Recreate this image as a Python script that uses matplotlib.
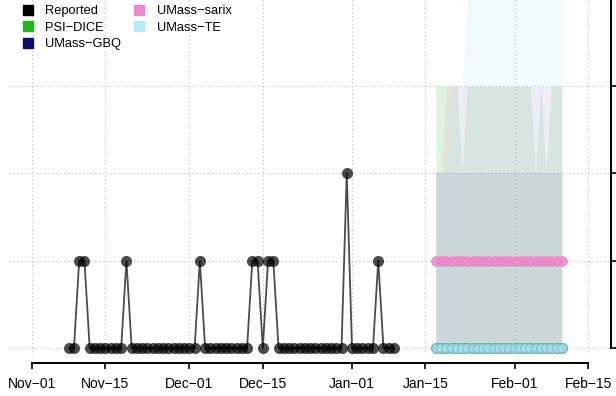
import datetime as dt
import matplotlib
matplotlib.use("Agg")
import matplotlib.pyplot as plt
import matplotlib.dates as mdates
from matplotlib.lines import Line2D

plt.rcParams['font.family'] = ['Liberation Sans', 'DejaVu Sans']

# reported daily counts, starting Nov 8
rep_start = dt.date(2021, 11, 8)
reported = [0, 0, 1, 1, 0, 0, 0, 0, 0, 0, 0, 1, 0, 0, 0, 0, 0, 0, 0, 0, 0,
            0, 0, 0, 0, 1, 0, 0, 0, 0, 0, 0, 0, 0, 0, 1, 1, 0, 1, 1, 0, 0,
            0, 0, 0, 0, 0, 0, 0, 0, 0, 0, 0, 2, 0, 0, 0, 0, 0, 1, 0, 0, 0]

# forecasts, daily from Jan 17 (25 days)
fc_start = dt.date(2022, 1, 17)
dice_med = [0, 0, 0, 0, 0, 0, 0, 0, 0, 0, 0, 0, 0, 0, 0, 0, 0, 0, 0, 0, 0, 0, 0, 0, 0]
dice_hi = [3, 3, 3, 3, 3, 2, 3, 3, 3, 3, 3, 3, 3, 3, 3, 3, 3, 3, 3, 2, 3, 2, 3, 3, 3]
gbq_med = [0, 0, 0, 0, 0, 0, 0, 0, 0, 0, 0, 0, 0, 0, 0, 0, 0, 0, 0, 0, 0, 0, 0, 0, 0]
gbq_hi = [2, 2, 2, 2, 2, 2, 2, 2, 2, 2, 2, 2, 2, 2, 2, 2, 2, 2, 2, 2, 2, 2, 2, 2, 2]
sarix_med = [1, 1, 1, 1, 1, 1, 1, 1, 1, 1, 1, 1, 1, 1, 1, 1, 1, 1, 1, 1, 1, 1, 1, 1, 1]
sarix_hi = [2, 2, 3, 3, 3, 3, 3, 3, 3, 3, 3, 3, 3, 3, 3, 3, 3, 3, 3, 3, 3, 3, 3, 3, 3]
te_med = [0, 0, 0, 0, 0, 0, 0, 0, 0, 0, 0, 0, 0, 0, 0, 0, 0, 0, 0, 0, 0, 0, 0, 0, 0]
te_hi = [2, 2, 2, 3, 3, 3, 4, 4, 4, 4, 4, 4, 4, 4, 4, 4, 4, 4, 4, 4, 4, 4, 4, 4, 4]

tick_dates = [dt.date(2021, 11, 1), dt.date(2021, 11, 15), dt.date(2021, 12, 1),
              dt.date(2021, 12, 15), dt.date(2022, 1, 1), dt.date(2022, 1, 15),
              dt.date(2022, 2, 1), dt.date(2022, 2, 15)]
tick_labels = ["Nov\u221201", "Nov\u221215", "Dec\u221201", "Dec\u221215",
               "Jan\u221201", "Jan\u221215", "Feb\u221201", "Feb\u221215"]

rep_dates = [rep_start + dt.timedelta(days=i) for i in range(len(reported))]
fc_dates = [fc_start + dt.timedelta(days=i) for i in range(len(dice_med))]

c_dice = "#1cb81c"
c_gbq = "#0c0c6c"
c_sarix = "#ee88cc"
c_te = "#b2ebf4"

fig = plt.figure(figsize=(6.16, 3.96), dpi=100)
ax = fig.add_axes([9 / 616, 41 / 396, 602 / 616, 355 / 396])

# prediction intervals
ax.fill_between(fc_dates, 0, dice_hi, color=c_dice, alpha=0.14, lw=0)
ax.fill_between(fc_dates, 0, gbq_hi, color=c_gbq, alpha=0.08, lw=0)
ax.fill_between(fc_dates, 0, sarix_hi, color=c_sarix, alpha=0.14, lw=0)
ax.fill_between(fc_dates, 0, te_hi, color=c_te, alpha=0.2, lw=0)

# medians
ax.plot(fc_dates, dice_med, 'o', color=c_dice, ms=6.8, alpha=0.6)
ax.plot(fc_dates, gbq_med, 'o', color=c_gbq, ms=6.8, alpha=0.3)
ax.plot(fc_dates, sarix_med, 'o', color=c_sarix, ms=6.8, alpha=0.85, mec="#e98cc8")
ax.plot(fc_dates, te_med, 'o', color="#a6e0ea", ms=6.8, alpha=0.9, mec="#7cc2d2", mew=0.8)

# reported
ax.plot(rep_dates, reported, '-', color='black', lw=1.3, alpha=0.7)
ax.plot(rep_dates, reported, 'o', color='black', ms=8, alpha=0.7, mew=0)

x0 = mdates.date2num(dt.date(2021, 11, 1))
ax.set_xlim(x0 - 4.38, x0 + 110.37)
ax.set_ylim(-0.08, 3.986)

ax.set_xticks([mdates.date2num(d) for d in tick_dates])
ax.set_xticklabels(tick_labels, fontsize=12)
ax.set_yticks([0, 1, 2, 3])
ax.yaxis.tick_right()
ax.tick_params(axis='y', labelright=False, direction='out', length=4, width=1.2)
ax.tick_params(axis='x', direction='out', length=4, width=1.2, pad=6)

ax.grid(True, linestyle=(0, (1, 2.5)), color='#bbbbbb', lw=0.8)
ax.set_axisbelow(True)

for s in ['top', 'left']:
    ax.spines[s].set_visible(False)
ax.spines['bottom'].set_position(('outward', 5.8))
ax.spines['bottom'].set_bounds(x0, mdates.date2num(dt.date(2022, 2, 15)))
ax.spines['bottom'].set_linewidth(1.4)
ax.spines['right'].set_bounds(0, 4.5)
ax.spines['right'].set_linewidth(1.4)

handles = [Line2D([], [], marker='s', ls='none', color=c, ms=6.5)
           for c in ['black', c_dice, c_gbq, c_sarix, c_te]]
labels = ["Reported", "PSI\u2212DICE", "UMass\u2212GBQ", "UMass\u2212sarix", "UMass\u2212TE"]
fig.legend(handles, labels, ncol=2, loc='upper left', bbox_to_anchor=(22.5 / 616, 1 - 5 / 396),
           frameon=False, fontsize=9.3, handlelength=0.8, handletextpad=0.95,
           labelspacing=0.35, columnspacing=1.0, borderaxespad=0, borderpad=0)

fig.savefig("out.png", dpi=100)
